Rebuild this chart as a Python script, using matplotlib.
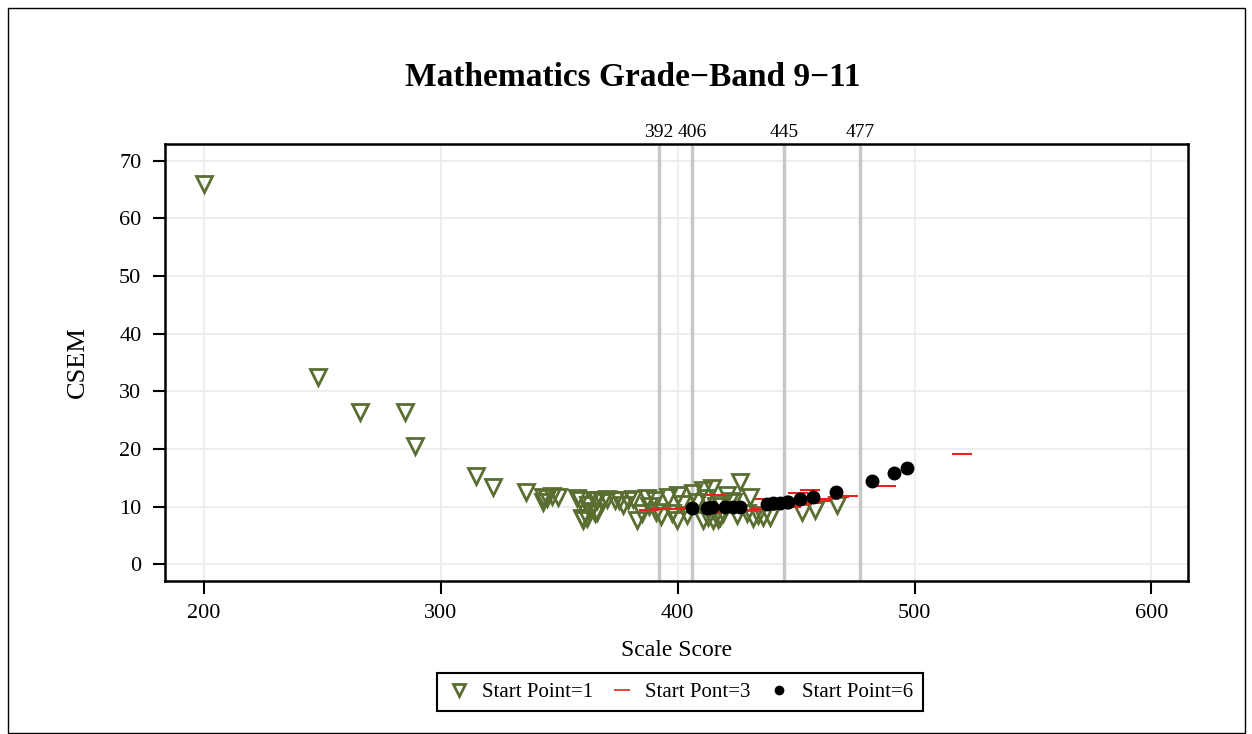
import numpy as np, matplotlib
matplotlib.use("Agg"); import matplotlib.pyplot as plt
from matplotlib.lines import Line2D
from matplotlib.patches import Rectangle
import matplotlib.transforms as mtransforms
plt.rcParams.update({"font.family":["Liberation Serif","DejaVu Serif"],"font.size":14})

# Start Point=1 (open down-triangles)
sp1_x=[200,248,266,285,289,315,322,336,343,343,345,347,349.5,357.5,358.8,359.6,360,361.7,362,363,
       365,365,366,366,368,370,373.5,375,377,379,381,383,385,387,388,390.5,391,393,396,397.6,
       399.7,400,402,404,406.5,408,410.7,410.7,412,413,414.5,415,416,417,418,418,419,420.8,422,423.4,
       425,426.4,429.3,430.6,432,434,436,439,452.5,458,467.3]
sp1_y=[66,32.5,26.5,26.5,20.5,15.3,13.5,12.6,11.7,10.8,11.5,11.8,11.7,11.5,11.2,8.1,7.7,8.1,10.3,9.2,
       11.2,8.9,11.2,9.1,10.8,11.3,11.2,11.2,10.3,11.2,11.3,7.7,8.9,11.5,10.2,11.2,9.1,8.4,11.7,8.9,
       7.7,12.0,10.5,8.6,12.4,10.8,12.9,7.7,11.5,8.2,13.3,7.7,10.2,7.9,8.2,10.6,8.9,12.0,11.0,10.8,
       8.5,14.3,8.9,11.7,8.0,8.6,8.2,8.2,9.1,9.4,10.3]
# Start Pont=3 (red dashes)
sp3_x=[388,393,398,403,416,420,425,430,435,440,444,437,448,452,456,460,464,468,472,451,456,488,520]
sp3_y=[9.5,9.6,9.6,9.7,12.0,9.1,9.2,9.4,9.6,9.9,10.3,11.3,10.0,10.4,10.7,11.0,11.3,11.6,11.8,12.4,12.9,13.6,19.1]
# Start Point=6 (black dots)
sp6_x=[406,412.4,414.5,420,423.4,426.4,437.7,440.3,443.2,446,446.6,451.7,457.2,467,482,491.4,496.9]
sp6_y=[9.8,9.8,9.9,10.0,10.0,9.9,10.5,10.6,10.7,10.8,10.9,11.4,11.7,12.6,14.5,15.8,16.7]
cuts=[392,406,445,477]

GREEN="#5a6e32"
fig=plt.figure(figsize=(12.52,7.34),dpi=100)
ax=fig.add_axes([0.1318,0.2091,0.8171,0.5947])
ax.set_xlim(183.5,615.5); ax.set_ylim(-2.8,72.9)
ax.set_xticks(range(200,601,100)); ax.set_yticks(range(0,71,10))
ax.grid(color="#ebebeb",lw=1.2,zorder=0); ax.set_axisbelow(True)
for c in cuts: ax.axvline(c,color="#c8c8c8",lw=2.5,zorder=1)
tr=mtransforms.blended_transform_factory(ax.transData,ax.transAxes)
for c in cuts: ax.text(c,1.006,str(c),transform=tr,ha="center",va="bottom",fontsize=14)

ax.plot(sp1_x,sp1_y,"v",ms=11,mfc="none",mec=GREEN,mew=2,zorder=3)
ax.plot(sp3_x,sp3_y,"_",ms=15,mec="#e8231e",mew=1.5,zorder=4)
ax.plot(sp6_x,sp6_y,"o",ms=9,mfc="black",mec="black",zorder=5)

for s in ax.spines.values(): s.set_linewidth(1.8)
ax.tick_params(direction="out",length=9,width=1.5,labelsize=16,pad=8)
ax.set_xlabel("Scale Score",fontsize=17,labelpad=12)
ax.set_ylabel("CSEM",fontsize=19,labelpad=22)
fig.text(0.505,0.894,"Mathematics Grade\u2212Band 9\u221211",ha="center",va="center",
         fontsize=24,fontweight="bold")

h=[Line2D([],[],ls="none",marker="v",ms=9,mfc="none",mec=GREEN,mew=2),
   Line2D([],[],ls="none",marker="_",ms=11,mec="#e8231e",mew=1.2),
   Line2D([],[],ls="none",marker="o",ms=6,mfc="black",mec="black")]
leg=fig.legend(h,["Start Point=1","Start Pont=3","Start Point=6"],loc="center",
               bbox_to_anchor=(0.543,0.057),ncol=3,fontsize=15,fancybox=False,
               edgecolor="black",framealpha=1,handlelength=1.2,handletextpad=0.5,
               columnspacing=0.8,borderpad=0.45)
leg.get_frame().set_linewidth(1.5)
fig.patches.append(Rectangle((8/1252,1/734),1237/1252,725/734,transform=fig.transFigure,
                             fill=False,lw=1,ec="black"))
fig.savefig("out.png",dpi=100)
